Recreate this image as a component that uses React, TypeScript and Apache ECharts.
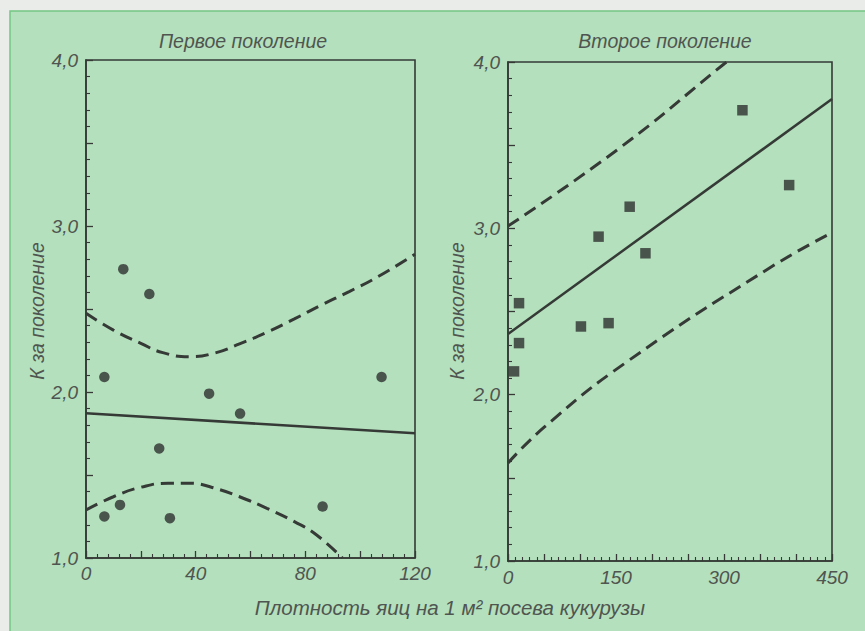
import React, { useEffect, useRef } from "react";
import * as echarts from "echarts";

// First generation (circles)
const gen1Density = [6.7, 13.6, 23.1, 44.9, 56.2, 26.7, 12.4, 6.7, 30.6, 86.3, 107.8];
const gen1K = [2.09, 2.74, 2.59, 1.99, 1.87, 1.66, 1.32, 1.25, 1.24, 1.31, 2.09];
const gen1FitX = [0, 120];
const gen1FitY = [1.872, 1.751];
const gen1UpperX = [0, 10, 20, 28, 38, 47, 56, 66, 76, 86, 96, 106, 120];
const gen1UpperY = [2.474, 2.373, 2.293, 2.237, 2.213, 2.235, 2.29, 2.36, 2.44, 2.525, 2.605, 2.69, 2.83];
const gen1LowerX = [0, 10, 20, 30, 38, 46, 56, 66, 76, 84, 93.5];
const gen1LowerY = [1.289, 1.369, 1.426, 1.45, 1.45, 1.425, 1.369, 1.299, 1.219, 1.14, 1.0];

// Second generation (squares)
const gen2Density = [8.4, 15.3, 15.3, 101.3, 139.7, 125.8, 169, 190.9, 325.6, 390.5];
const gen2K = [2.14, 2.31, 2.55, 2.41, 2.43, 2.95, 3.13, 2.85, 3.71, 3.26];
const gen2FitX = [0, 450];
const gen2FitY = [2.365, 3.777];
const gen2UpperX = [0, 156, 300, 304];
const gen2UpperY = [3.014, 3.486, 3.988, 4.0];
const gen2LowerX = [0, 51.5, 163, 360, 450];
const gen2LowerY = [1.589, 1.809, 2.191, 2.753, 2.974];

const titles = ["Первое поколение", "Второе поколение"];
const yName = "К за поколение";
const xName = "Плотность яиц на 1 м² посева кукурузы";
const yTicks = [1, 2, 3, 4];

const zip = (xs: number[], ys: number[]) => xs.map((x, i) => [x, ys[i]]);

const INK = "#353a36";
const TEXT = "#4f5550";
const FONT = "'Liberation Sans', Arial, sans-serif";

function xAxisCfg(grid: number, max: number, interval: number, labelEvery: number, margin: number) {
  return {
    type: "value",
    gridIndex: grid,
    min: 0,
    max,
    interval,
    axisLine: { show: true, lineStyle: { color: INK, width: 1.6 } },
    axisTick: { show: true, inside: true, length: 7, lineStyle: { color: INK, width: 1.3 } },
    minorTick: { show: true, splitNumber: 5, length: 4, lineStyle: { color: INK, width: 1.1 } },
    splitLine: { show: false },
    axisLabel: {
      margin,
      fontSize: 19,
      fontStyle: "italic",
      fontFamily: FONT,
      color: TEXT,
      formatter: (v: number) => (Math.abs(v % labelEvery) < 1e-6 ? String(v) : ""),
    },
  };
}

function yAxisCfg(grid: number) {
  return {
    type: "value",
    gridIndex: grid,
    min: 1,
    max: 4,
    interval: 0.5,
    axisLine: { show: true, lineStyle: { color: INK, width: 1.6 } },
    axisTick: { show: true, inside: true, length: 7, lineStyle: { color: INK, width: 1.3 } },
    minorTick: { show: true, splitNumber: 5, length: 4, lineStyle: { color: INK, width: 1.1 } },
    splitLine: { show: false },
    axisLabel: {
      margin: 8,
      fontSize: 19,
      fontStyle: "italic",
      fontFamily: FONT,
      color: TEXT,
      formatter: (v: number) =>
        yTicks.some((t) => Math.abs(t - v) < 1e-6) ? v.toFixed(1).replace(".", ",") : "",
    },
  };
}

export default function App() {
  const ref = useRef<HTMLDivElement>(null);
  useEffect(() => {
    if (!ref.current) return;
    const chart = echarts.init(ref.current, undefined, { renderer: "svg" });
    const dashed = { color: INK, width: 3, type: [13, 7] as any };
    const solid = { color: INK, width: 2.5 };
    const txt = (text: string, size: number) => ({
      text,
      align: "center",
      verticalAlign: "middle",
      fontSize: size,
      fontStyle: "italic",
      fontFamily: FONT,
      fill: TEXT,
    });
    chart.setOption({
      animation: false,
      backgroundColor: "#e9ece9",
      grid: [
        { left: 86, top: 60, width: 329, height: 498, show: true, borderColor: INK, borderWidth: 1.6, backgroundColor: "transparent" },
        { left: 508, top: 62, width: 324, height: 499, show: true, borderColor: INK, borderWidth: 1.6, backgroundColor: "transparent" },
      ],
      xAxis: [xAxisCfg(0, 120, 20, 40, 6), xAxisCfg(1, 450, 50, 150, 7)],
      yAxis: [yAxisCfg(0), yAxisCfg(1)],
      graphic: [
        {
          type: "rect",
          z: -10,
          shape: { x: 10, y: 11, width: 870, height: 640 },
          style: { fill: "#b4e0bd", stroke: "#74c684", lineWidth: 1.5 },
        },
        { type: "text", x: 243, y: 41, style: txt(titles[0], 19.5) },
        { type: "text", x: 665, y: 41, style: txt(titles[1], 19.5) },
        { type: "text", x: 37, y: 311, rotation: Math.PI / 2, style: txt(yName, 19.5) },
        { type: "text", x: 457, y: 311, rotation: Math.PI / 2, style: txt(yName, 19.5) },
        { type: "text", x: 450, y: 607, style: txt(xName, 20.5) },
      ],
      series: [
        { type: "line", xAxisIndex: 0, yAxisIndex: 0, data: zip(gen1FitX, gen1FitY), showSymbol: false, lineStyle: solid, z: 2 },
        { type: "line", xAxisIndex: 0, yAxisIndex: 0, data: zip(gen1UpperX, gen1UpperY), showSymbol: false, smooth: 0.5, lineStyle: dashed, z: 2 },
        { type: "line", xAxisIndex: 0, yAxisIndex: 0, data: zip(gen1LowerX, gen1LowerY), showSymbol: false, smooth: 0.5, lineStyle: dashed, z: 2 },
        { type: "scatter", xAxisIndex: 0, yAxisIndex: 0, data: zip(gen1Density, gen1K), symbol: "circle", symbolSize: 10.5, itemStyle: { color: "#2e322f" }, z: 3 },
        { type: "line", xAxisIndex: 1, yAxisIndex: 1, data: zip(gen2FitX, gen2FitY), showSymbol: false, lineStyle: solid, z: 2 },
        { type: "line", xAxisIndex: 1, yAxisIndex: 1, data: zip(gen2UpperX, gen2UpperY), showSymbol: false, smooth: 0.5, lineStyle: dashed, z: 2 },
        { type: "line", xAxisIndex: 1, yAxisIndex: 1, data: zip(gen2LowerX, gen2LowerY), showSymbol: false, smooth: 0.5, lineStyle: dashed, z: 2 },
        { type: "scatter", xAxisIndex: 1, yAxisIndex: 1, data: zip(gen2Density, gen2K), symbol: "rect", symbolSize: 10.5, itemStyle: { color: "#2e322f" }, z: 3 },
      ],
    });
    return () => chart.dispose();
  }, []);
  return (
    <div
      ref={ref}
      style={{ position: "fixed", left: 0, top: 0, width: 865, height: 631 }}
    />
  );
}
